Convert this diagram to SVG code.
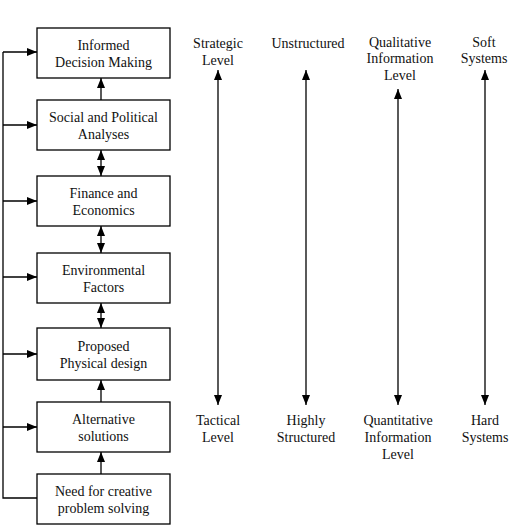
<svg xmlns="http://www.w3.org/2000/svg" width="520" height="527" viewBox="0 0 520 527">
<defs>
<marker id="ah" viewBox="0 0 10 10" refX="10" refY="5" markerWidth="10" markerHeight="10" markerUnits="userSpaceOnUse" orient="auto-start-reverse"><path d="M0,1 L10,5 L0,9 Z" fill="#000"/></marker>
</defs>
<style>
.box{fill:#fff;stroke:#000;stroke-width:1.3}
.ln{fill:none;stroke:#000;stroke-width:1.3}
text{font-family:"Liberation Serif","Times New Roman",serif;font-size:14px;fill:#111;text-anchor:middle}
</style>
<rect width="520" height="527" fill="#fff"/>
<g id="n1"><rect class="box" x="37" y="28" width="133" height="50"/><text x="103.5" y="50">Informed</text><text x="103.5" y="67">Decision Making</text></g>
<g id="n2"><rect class="box" x="37" y="100" width="133" height="50"/><text x="103.5" y="122">Social and Political</text><text x="103.5" y="139">Analyses</text></g>
<g id="n3"><rect class="box" x="37" y="176" width="133" height="50"/><text x="103.5" y="198">Finance and</text><text x="103.5" y="215">Economics</text></g>
<g id="n4"><rect class="box" x="37" y="253" width="133" height="50"/><text x="103.5" y="275">Environmental</text><text x="103.5" y="292">Factors</text></g>
<g id="n5"><rect class="box" x="37" y="328" width="133" height="52"/><text x="103.5" y="351">Proposed</text><text x="103.5" y="368">Physical design</text></g>
<g id="n6"><rect class="box" x="37" y="402" width="133" height="50"/><text x="103.5" y="424">Alternative</text><text x="103.5" y="441">solutions</text></g>
<g id="n7"><rect class="box" x="37" y="474" width="133" height="50"/><text x="103.5" y="496">Need for creative</text><text x="103.5" y="513">problem solving</text></g>
<g id="labels">
<text x="218" y="48">Strategic</text><text x="218" y="65">Level</text>
<text x="308" y="48">Unstructured</text>
<text x="400" y="47">Qualitative</text><text x="400" y="63">Information</text><text x="400" y="80">Level</text>
<text x="484" y="47">Soft</text><text x="484" y="63">Systems</text>
<text x="218" y="425">Tactical</text><text x="218" y="442">Level</text>
<text x="306" y="425">Highly</text><text x="306" y="442">Structured</text>
<text x="398" y="425">Quantitative</text><text x="398" y="442">Information</text><text x="398" y="459">Level</text>
<text x="485" y="425">Hard</text><text x="485" y="442">Systems</text>
</g>
<g id="connectors">
<path class="ln" d="M37,498 H3 V52"/>
<path class="ln" d="M3,52 H37" marker-end="url(#ah)"/>
<path class="ln" d="M3,125 H37" marker-end="url(#ah)"/>
<path class="ln" d="M3,201 H37" marker-end="url(#ah)"/>
<path class="ln" d="M3,277 H37" marker-end="url(#ah)"/>
<path class="ln" d="M3,354 H37" marker-end="url(#ah)"/>
<path class="ln" d="M3,427 H37" marker-end="url(#ah)"/>
<path class="ln" d="M101,100 V78" marker-end="url(#ah)"/>
<path class="ln" d="M101,150 V176" marker-start="url(#ah)" marker-end="url(#ah)"/>
<path class="ln" d="M101,226 V253" marker-start="url(#ah)" marker-end="url(#ah)"/>
<path class="ln" d="M101,303 V328" marker-start="url(#ah)" marker-end="url(#ah)"/>
<path class="ln" d="M101,402 V380" marker-end="url(#ah)"/>
<path class="ln" d="M101,474 V452" marker-end="url(#ah)"/>
<path class="ln" d="M218,70 V405" marker-start="url(#ah)" marker-end="url(#ah)"/>
<path class="ln" d="M306,70 V405" marker-start="url(#ah)" marker-end="url(#ah)"/>
<path class="ln" d="M398,89 V405" marker-start="url(#ah)" marker-end="url(#ah)"/>
<path class="ln" d="M485,70 V405" marker-start="url(#ah)" marker-end="url(#ah)"/>
</g>
</svg>
